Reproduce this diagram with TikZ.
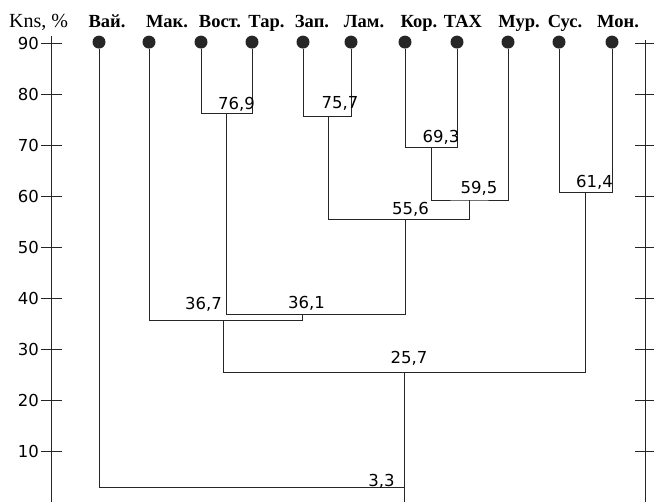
\documentclass[tikz,border=0pt]{standalone}
\usepackage{fontspec}
\setmainfont{Liberation Serif}
\newfontfamily\numfont{DejaVu Sans}
\usepackage{tikz}
\usetikzlibrary{positioning}
\tikzset{
    leaf/.style={
        circle,
        fill=black!85,
        inner sep=0pt,
        minimum size=13pt
    },
    species/.style={
        anchor=base,
        inner sep=0pt,
        font=\fontsize{18.5}{20}\selectfont\bfseries
    },
    num/.style={
        anchor=base,
        inner sep=0pt,
        font=\numfont\fontsize{16.5}{18}\selectfont
    },
    link/.style={
        draw=black!85,
        line width=0.9pt
    }
}

\begin{document}
\begin{tikzpicture}[
x=1pt, y=5.11pt,
axis/.style={draw=black!85, line width=1pt}
]
\useasboundingbox (0,0.2) rectangle (654,98.44);

\draw[axis] (51.5,91.4) -- (51.5,0.2);
\draw[axis] (645,90.6) -- (645,0.2);
\foreach \v in {10,20,...,90} {
    \draw[axis] (41,\v) -- (62,\v);
    \draw[axis] (635,\v) -- (654,\v);
    \node[num, anchor=east] at (39,\v) {\v};
}
\node[anchor=base west, inner sep=0pt, font=\fontsize{20}{22}\selectfont] (kns) at (9,93) {Kns, \%};

\foreach \name/\x/\lx/\txt in {vaj/99/107/Вай., mak/149/167/Мак., vost/201/220/Вост., tar/252/266.5/Тар., zap/303/312/Зап., lam/351/364/Лам., kor/405/419/Кор., tax/457/463/ТАХ, mur/508/519/Мур., sus/559/565/Сус., mon/612/618/Мон.} {
    \node[leaf] (\name) at (\x,90.2) {};
    \node[species] (\name-lab) at (\lx,93) {\txt};
}

\coordinate (kA) at (226.5,76.3);
\coordinate (kB) at (328,75.7);
\coordinate (kC) at (431,69.5);
\coordinate (kD) at (469,59.3);
\coordinate (kE) at (405,55.4);
\coordinate (kF) at (302,37.0);
\coordinate (kG) at (223,35.8);
\coordinate (kH) at (585,60.7);
\coordinate (kI) at (404,25.6);
\coordinate (kJ) at (404,3.1);
\coordinate (bot) at (404,0.2);

\draw[link] (vost) |- (kA) -| (tar);
\draw[link] (zap) |- (kB) -| (lam);
\draw[link] (kor) |- (kC) -| (tax);
\draw[link] (kC) |- (kD) -| (mur);
\draw[link] (kB) |- (kE) -| (kD);
\draw[link] (kA) |- (kF) -| (kE);
\draw[link] (mak) |- (kG) -| (kF);
\draw[link] (sus) |- (kH) -| (mon);
\draw[link] (kG) |- (kI) -| (kH);
\draw[link] (vaj) |- (kJ);
\draw[link] (kI) -- (bot);

\node[num] (lA) at (236.5,77.1) {76,9};
\node[num] (lB) at (340,77.3) {75,7};
\node[num] (lC) at (441,70.6) {69,3};
\node[num] (lD) at (479,60.5) {59,5};
\node[num] (lE) at (410.5,56.4) {55,6};
\node[num] (lF) at (306.5,38.0) {36,1};
\node[num] (lG) at (203.5,37.8) {36,7};
\node[num] (lH) at (594.5,61.8) {61,4};
\node[num] (lI) at (409,27.4) {25,7};
\node[num] (lJ) at (381.5,3.3) {3,3};
\end{tikzpicture}
\end{document}
